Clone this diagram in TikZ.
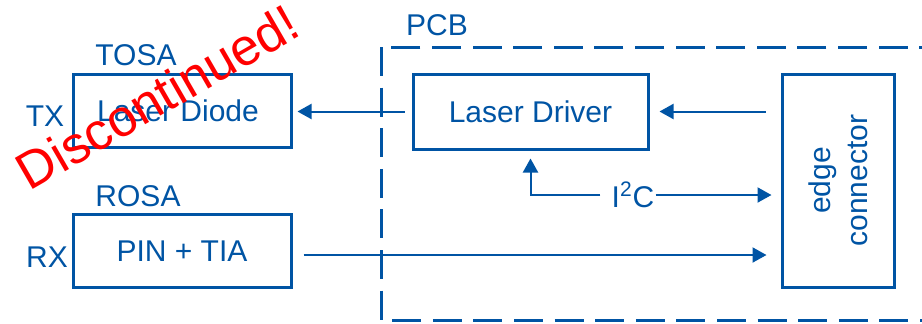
\documentclass[tikz,border=0pt]{standalone}
\usepackage{fontspec}
\setmainfont{Liberation Sans}
\usetikzlibrary{arrows.meta,positioning}
\definecolor{sfpblue}{RGB}{0,84,164}
\definecolor{stampred}{RGB}{255,0,0}

\begin{document}
\begin{tikzpicture}[x=0.5pt,y=-0.5pt,
  font=\fontsize{15}{18.5}\selectfont,
  block/.style={draw=sfpblue, line width=1.5pt, text=sfpblue, minimum width=109pt, minimum height=36.5pt},
  lbl/.style={text=sfpblue, inner sep=0pt},
  sig/.style={draw=sfpblue, line width=1pt, -{Triangle[length=7pt,width=7.5pt]}}]
\useasboundingbox (0,0) rectangle (922,323);

% PCB outline (runs off the right edge)
\draw[sfpblue, line width=1.5pt, dash pattern=on 14.5pt off 5.8pt] (381,47) rectangle (960,320);
\node[lbl] (pcb) at (437,25) {PCB};

% Optical sub-assemblies
\node[block] (tosa) at (182,111) {\hspace*{-4pt}Laser Diode};
\node[block] (rosa) at (182,251) {PIN + TIA};
\node[lbl] (tosalbl) at (136,55) {TOSA};
\node[lbl] (rosalbl) at (138,196) {ROSA};
\node[lbl] (tx) at (45,116) {TX};
\node[lbl] (rx) at (47,257) {RX};

% Boards parts
\node[block, minimum width=117.5pt, minimum height=37.5pt] (driver) at (530.5,111.5) {Laser Driver};
\node[block, minimum width=56pt, minimum height=106.5pt] (edge) at (838,180.5) {};
\node[lbl, rotate=90, align=center] (edgetxt) at (edge.center) {edge\\connector};
\node[lbl] (i2c) at (633,195) {I\textsuperscript{2}C};

% Signals
\draw[sig, shorten <=7.5pt, shorten >=5pt] (edge.west |- driver.east) -- (driver.east);
\draw[sig, shorten <=3.5pt, shorten >=2.5pt] (driver.west) -- (driver.west -| tosa.east);
\draw[sig, shorten <=5.5pt, shorten >=4pt] (i2c.west) -| (driver.south);
\draw[sig, shorten <=0.5pt, shorten >=4.5pt] (i2c.east) -- (i2c.east -| edge.west);
\draw[sig, shorten <=5.5pt, shorten >=7pt] ([yshift=-2pt]rosa.east) -- ([yshift=-2pt]rosa.east -| edge.west);

% Stamp
\node[text=stampred, font=\fontsize{26}{30}\selectfont, rotate=30, inner sep=0pt] (stamp) at (157,97) {Discontinued!};
\end{tikzpicture}
\end{document}
